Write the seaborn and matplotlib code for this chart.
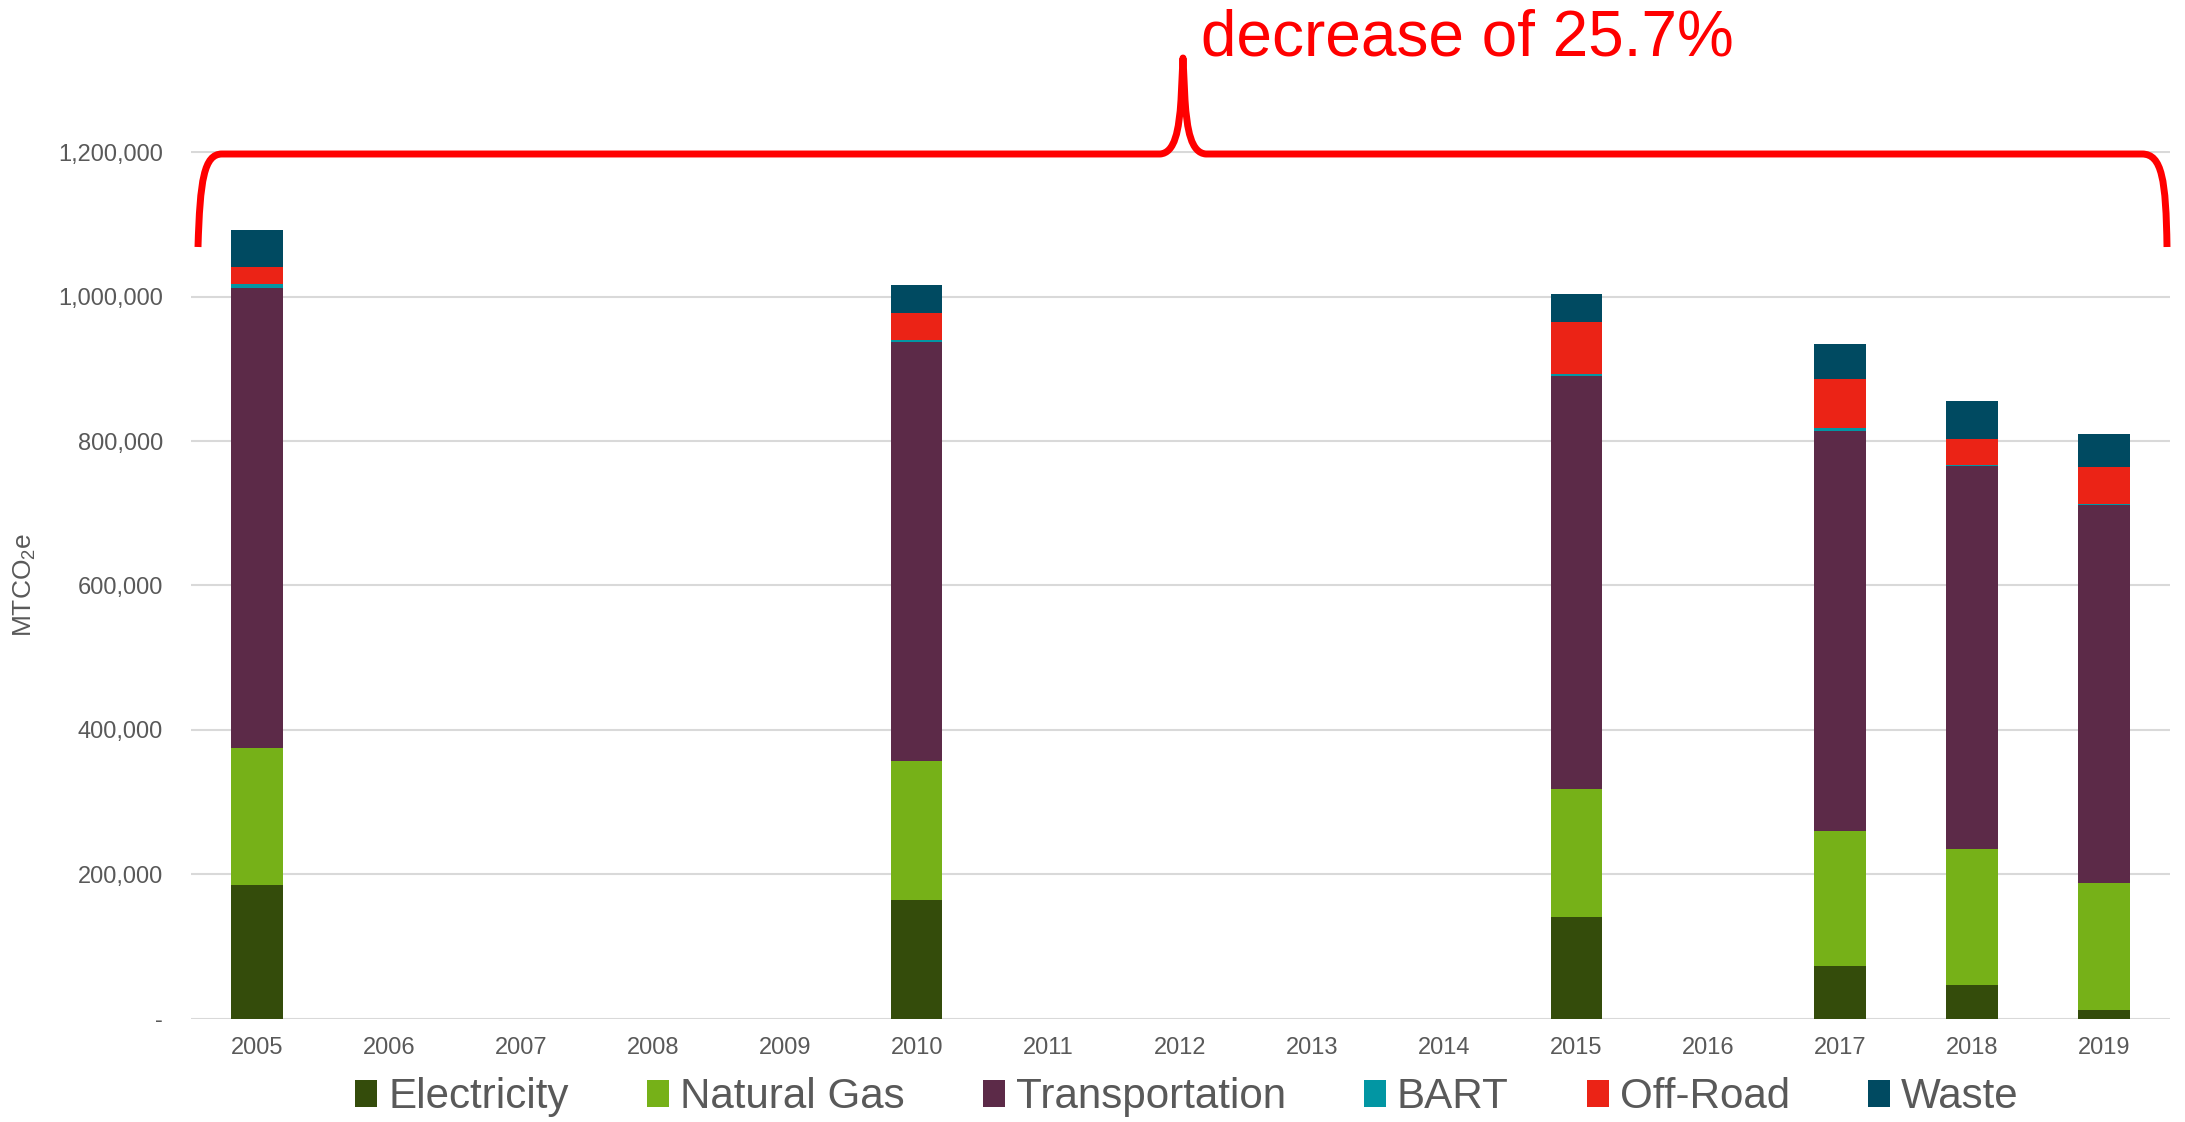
import numpy as np
import pandas as pd
import matplotlib
matplotlib.use("Agg")
import matplotlib.pyplot as plt
import seaborn as sns
from matplotlib.patches import Patch
from matplotlib.path import Path
from matplotlib.patches import PathPatch
from matplotlib.transforms import Affine2D
from matplotlib.ticker import FuncFormatter

# ---------------- data ----------------
years_all = [str(y) for y in range(2005, 2020)]
years_data = ['2005', '2010', '2015', '2017', '2018', '2019']
electricity = [184500, 164500, 141000, 73500, 46000, 11500]
natural_gas = [191000, 192000, 177000, 187000, 189000, 177000]
transportation = [636000, 581000, 572000, 553000, 531000, 523500]
bart = [6000, 3000, 3500, 4000, 1500, 1500]
off_road = [23500, 37000, 71000, 69000, 36000, 51000]
waste = [51000, 38000, 39000, 48000, 51500, 45500]

sectors = ['Electricity', 'Natural Gas', 'Transportation', 'BART', 'Off-Road', 'Waste']
sector_values = [electricity, natural_gas, transportation, bart, off_road, waste]
colors = ['#344C0B', '#76B118', '#5C2A48', '#0296A3', '#EB2316', '#004A61']
y_ticks = [0, 200000, 400000, 600000, 800000, 1000000, 1200000]
annotation = 'decrease of 25.7%'

# ---------------- style ----------------
sns.set_theme(style='white')
plt.rcParams['font.family'] = ['Liberation Sans', 'DejaVu Sans']
plt.rcParams['mathtext.fontset'] = 'custom'
plt.rcParams['mathtext.rm'] = 'Liberation Sans'
plt.rcParams['mathtext.it'] = 'Liberation Sans'
plt.rcParams['mathtext.default'] = 'regular'

W, H = 2185, 1122
fig = plt.figure(figsize=(W / 100, H / 100), dpi=100)
ax = fig.add_axes([191 / W, 1 - 1018.7 / H, (2170 - 191) / W, (1018.7 - 150.5) / H])

# long table with cumulative stacks
df = pd.DataFrame({'year': years_data})
for name, vals in zip(sectors, sector_values):
    df[name] = vals
cum = df[sectors].cumsum(axis=1)

# draw from top layer downward so each shorter cumulative bar overlays
for name, col in reversed(list(zip(sectors, colors))):
    d = pd.DataFrame({'year': df['year'], 'value': cum[name]})
    sns.barplot(data=d, x='year', y='value', order=years_all, color=col,
                saturation=1, width=0.39, errorbar=None, ax=ax,
                edgecolor='none', linewidth=0)

ax.set_xlim(-0.5, len(years_all) - 0.5)
ax.set_ylim(0, 1200000 * 1.002)
ax.set_yticks(y_ticks)
ax.yaxis.set_major_formatter(FuncFormatter(lambda v, p: '-' if v == 0 else f'{v:,.0f}'))
ax.yaxis.grid(True, color='#D9D9D9', linewidth=1.5)
ax.set_axisbelow(True)
for s in ax.spines.values():
    s.set_visible(False)
ax.tick_params(axis='both', length=0, labelsize=17, colors='#595959')
ax.tick_params(axis='y', pad=20)
ax.tick_params(axis='x', pad=13)
ax.set_xlabel('')
ax.set_ylabel('')
fig.text(25 / W, 1 - 585 / H, 'MTCO$_2$e', rotation=90, ha='center', va='center',
         fontsize=19, color='#595959')

# legend
handles = [Patch(facecolor=c, edgecolor='none', label=n) for n, c in zip(sectors, colors)]
fig.legend(handles=handles, loc='center', bbox_to_anchor=(1187 / W, 1 - 1097 / H),
           ncol=6, frameon=False, fontsize=30.3, handlelength=0.53, handleheight=0.6,
           handletextpad=0.26, columnspacing=1.85, labelcolor='#595959',
           borderaxespad=0, borderpad=0)

# curly brace annotation (in pixel coords of the figure)
pix = Affine2D().scale(1 / W, -1 / H).translate(0, 1) + fig.transFigure
verts = [(198, 247), (200, 180), (204, 154), (222, 154),
         (1160, 154),
         (1175, 153), (1179, 130), (1181, 100),
         (1183, 58),
         (1185, 100),
         (1187, 130), (1191, 153), (1206, 154),
         (2142, 154),
         (2162, 154), (2166, 180), (2167, 247)]
codes = [Path.MOVETO, Path.CURVE4, Path.CURVE4, Path.CURVE4,
         Path.LINETO,
         Path.CURVE4, Path.CURVE4, Path.CURVE4,
         Path.LINETO,
         Path.LINETO,
         Path.CURVE4, Path.CURVE4, Path.CURVE4,
         Path.LINETO,
         Path.CURVE4, Path.CURVE4, Path.CURVE4]
brace = PathPatch(Path(verts, codes), transform=pix, facecolor='none',
                  edgecolor='#FF0000', linewidth=5, capstyle='butt', joinstyle='round')
fig.add_artist(brace)

fig.text(1201 / W, 1 - 56 / H, annotation, ha='left', va='baseline',
         fontsize=46, color='#FF0000')

fig.savefig('out.png', dpi=100)
